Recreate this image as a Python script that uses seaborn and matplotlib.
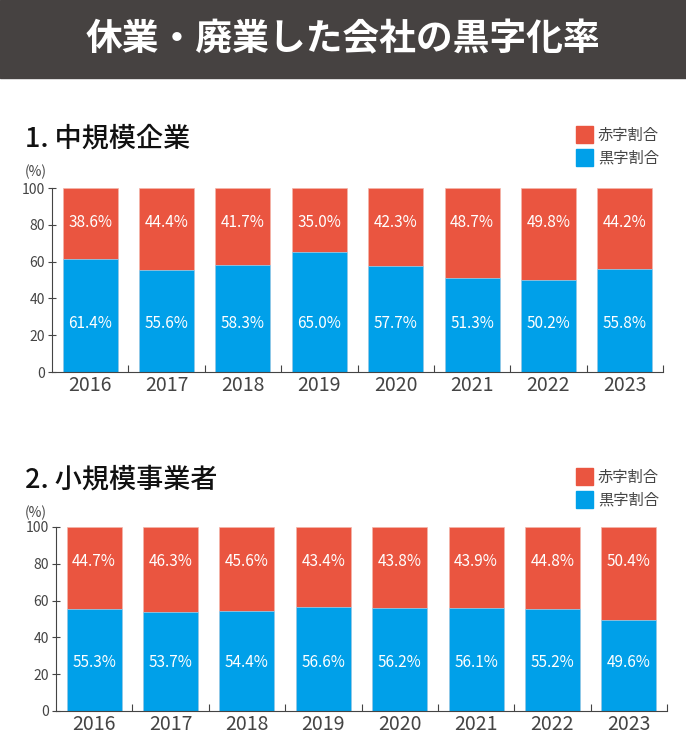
import seaborn as sns
import matplotlib.pyplot as plt
import pandas as pd
from matplotlib.patches import Rectangle

years = ['2016', '2017', '2018', '2019', '2020', '2021', '2022', '2023']
mid_black = [61.4, 55.6, 58.3, 65.0, 57.7, 51.3, 50.2, 55.8]
mid_red = [38.6, 44.4, 41.7, 35.0, 42.3, 48.7, 49.8, 44.2]
small_black = [55.3, 53.7, 54.4, 56.6, 56.2, 56.1, 55.2, 49.6]
small_red = [44.7, 46.3, 45.6, 43.4, 43.8, 43.9, 44.8, 50.4]

RED = '#EA5540'
BLUE = '#00A0E9'
GRAY = '#444444'

sns.set_style('white')
plt.rcParams['font.family'] = ['Noto Sans CJK JP', 'DejaVu Sans']

fig = plt.figure(figsize=(6.86, 7.52), dpi=100)
fig.patches.append(Rectangle((0, 1 - 78 / 752), 1, 78 / 752, transform=fig.transFigure,
                             color='#464241', zorder=0))
fig.text(0.5, 1 - 40 / 752, '休業・廃業した会社の黒字化率', color='white', fontsize=26.5,
         fontweight='bold', ha='center', va='center')


def panel(rect, black, red, title, title_y, leg_y):
    ax = fig.add_axes(rect)
    df = pd.DataFrame({'year': years, 'black': black,
                       'total': [b + r for b, r in zip(black, red)]})
    sns.barplot(data=df, x='year', y='total', color=RED, width=0.72, saturation=1,
                edgecolor='#F3B5AA', linewidth=0.5, ax=ax)
    sns.barplot(data=df, x='year', y='black', color=BLUE, width=0.72, saturation=1,
                edgecolor='#9AD6F5', linewidth=0.5, ax=ax)
    for i in range(len(years)):
        ax.text(i, 81, f'{red[i]:.1f}%', color='white', fontsize=11, ha='center', va='center')
        ax.text(i, 26.6, f'{black[i]:.1f}%', color='white', fontsize=11, ha='center', va='center')
    ax.set_xlim(-0.5, len(years) - 0.5)
    ax.set_ylim(0, 100)
    ax.set_yticks(range(0, 101, 20))
    ax.set_xlabel('')
    ax.set_ylabel('')
    for s in ['top', 'right']:
        ax.spines[s].set_visible(False)
    for s in ['left', 'bottom']:
        ax.spines[s].set_color(GRAY)
        ax.spines[s].set_linewidth(0.8)
    ax.tick_params(axis='y', direction='inout', length=6, width=0.8, color=GRAY,
                   labelcolor=GRAY, labelsize=10, pad=2, left=True)
    ax.set_xticks([i + 0.5 for i in range(len(years))], minor=True)
    ax.tick_params(axis='x', which='minor', direction='in', length=5, width=0.8,
                   color=GRAY, bottom=True)
    ax.tick_params(axis='x', which='major', length=0, labelcolor=GRAY, labelsize=14, pad=2)
    ax.grid(False)
    fig.text(25 / 686, 1 - title_y / 752, title, fontsize=19.5, color='#111111',
             fontweight='medium', ha='left', va='center')
    fig.text(25 / 686, 1 - (title_y + 33) / 752, '(%)', fontsize=10, color=GRAY,
             ha='left', va='center')
    for k, (lab, col) in enumerate([('赤字割合', RED), ('黒字割合', BLUE)]):
        yc = leg_y + 23 * k
        fig.patches.append(Rectangle((576 / 686, 1 - (yc + 8) / 752), 17 / 686, 17 / 752,
                                     transform=fig.transFigure, color=col))
        fig.text(598 / 686, 1 - yc / 752, lab, fontsize=11, color=GRAY,
                 ha='left', va='center')
    return ax


panel([52 / 686, 1 - 372 / 752, 611 / 686, 184 / 752], mid_black, mid_red,
      '1. 中規模企業', 139, 135)
panel([56 / 686, 1 - 711 / 752, 611 / 686, 184 / 752], small_black, small_red,
      '2. 小規模事業者', 480, 477)

fig.savefig('out.png', dpi=100)
